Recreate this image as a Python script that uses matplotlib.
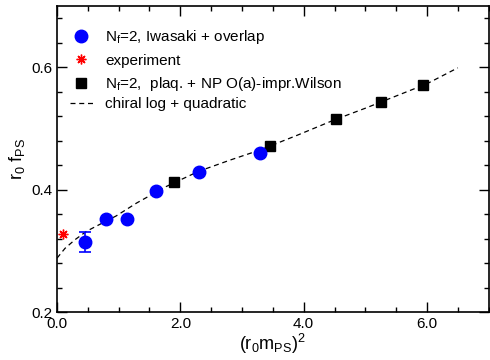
import matplotlib
matplotlib.use("Agg")
import matplotlib.pyplot as plt
from matplotlib.ticker import MultipleLocator, FixedLocator

plt.rcParams['font.family'] = ['Liberation Sans', 'DejaVu Sans']
plt.rcParams['mathtext.fontset'] = 'custom'
plt.rcParams['mathtext.rm'] = 'Liberation Sans'
plt.rcParams['mathtext.it'] = 'Liberation Sans:italic'

# Nf=2 Iwasaki + overlap
ovl_x = [0.45, 0.80, 1.13, 1.61, 2.30, 3.29]
ovl_y = [0.314, 0.352, 0.352, 0.398, 0.429, 0.460]
ovl_err = [0.016, 0.0, 0.0, 0.0, 0.0, 0.0]

# experiment
exp_x = [0.10]
exp_y = [0.328]

# Nf=2 plaq + NP O(a)-impr. Wilson
wil_x = [1.90, 3.45, 4.53, 5.25, 5.94]
wil_y = [0.4126, 0.471, 0.5148, 0.543, 0.5705]

# chiral log + quadratic fit curve
fit_x = [0.0, 0.13, 0.29, 0.48, 0.69, 0.96, 1.29, 1.77, 2.3, 2.8, 3.3, 3.9, 4.5, 5.0, 5.5, 6.0, 6.5]
fit_y = [0.288, 0.304, 0.318, 0.332, 0.343, 0.357, 0.378, 0.405, 0.430, 0.448, 0.465, 0.489, 0.514, 0.533, 0.553, 0.573, 0.599]

xticks = [0.0, 2.0, 4.0, 6.0]
xticklabels = ["0.0", "2.0", "4.0", "6.0"]
yticks = [0.2, 0.4, 0.6]
yticklabels = ["0.2", "0.4", "0.6"]

fig = plt.figure(figsize=(4.9, 3.6), dpi=100)
ax = fig.add_axes([0.1163, 0.1333, 0.881, 0.85])

ax.errorbar(ovl_x, ovl_y, yerr=ovl_err, fmt='none', ecolor='#0000ff',
            capsize=4, elinewidth=1.2, capthick=1.2, zorder=3)
h_ovl, = ax.plot(ovl_x, ovl_y, linestyle='none', marker='o', color='#0000ff', ms=9,
                 zorder=4, label=r'$\mathrm{N_f}$=2, Iwasaki + overlap')
h_exp, = ax.plot(exp_x, exp_y, linestyle='none', marker=(8, 2, 0), color='red', ms=7,
                 mew=1.0, label='experiment', zorder=3)
h_wil, = ax.plot(wil_x, wil_y, linestyle='none', marker='s', color='black', ms=7.5,
                 label=r'$\mathrm{N_f}$=2,  plaq. + NP O(a)-impr.Wilson', zorder=3)
h_fit, = ax.plot(fit_x, fit_y, linestyle=(0, (4, 3)), color='black', lw=0.9,
                 label='chiral log + quadratic', zorder=2)

ax.set_xlim(0, 7.0)
ax.set_ylim(0.2, 0.7)
ax.xaxis.set_major_locator(FixedLocator(xticks))
ax.set_xticklabels(xticklabels)
ax.xaxis.set_minor_locator(MultipleLocator(0.5))
ax.yaxis.set_major_locator(FixedLocator(yticks))
ax.set_yticklabels(yticklabels)
ax.yaxis.set_minor_locator(MultipleLocator(0.04))

ax.tick_params(which='both', direction='in', top=True, right=True, labelsize=11, width=1.0)
ax.tick_params(which='major', length=7)
ax.tick_params(which='minor', length=3.5)
for s in ax.spines.values():
    s.set_linewidth(1.2)

ax.set_xlabel(r'$\mathrm{(r_0m_{PS})^2}$', fontsize=13, labelpad=1)
ax.set_ylabel(r'$\mathrm{r_0\ f_{PS}}$', fontsize=13, labelpad=3)

leg1 = ax.legend(handles=[h_ovl, h_exp, h_wil], loc='upper left', frameon=False,
                 fontsize=11, handlelength=1.5, handletextpad=0.8, borderpad=0,
                 borderaxespad=0, labelspacing=0.5, bbox_to_anchor=(0.03, 0.928))
ax.add_artist(leg1)
ax.legend(handles=[h_fit], loc='upper left', frameon=False,
          fontsize=11, handlelength=1.5, handletextpad=0.8, borderpad=0,
          borderaxespad=0, bbox_to_anchor=(0.03, 0.703))

fig.savefig('out.png', dpi=100)
